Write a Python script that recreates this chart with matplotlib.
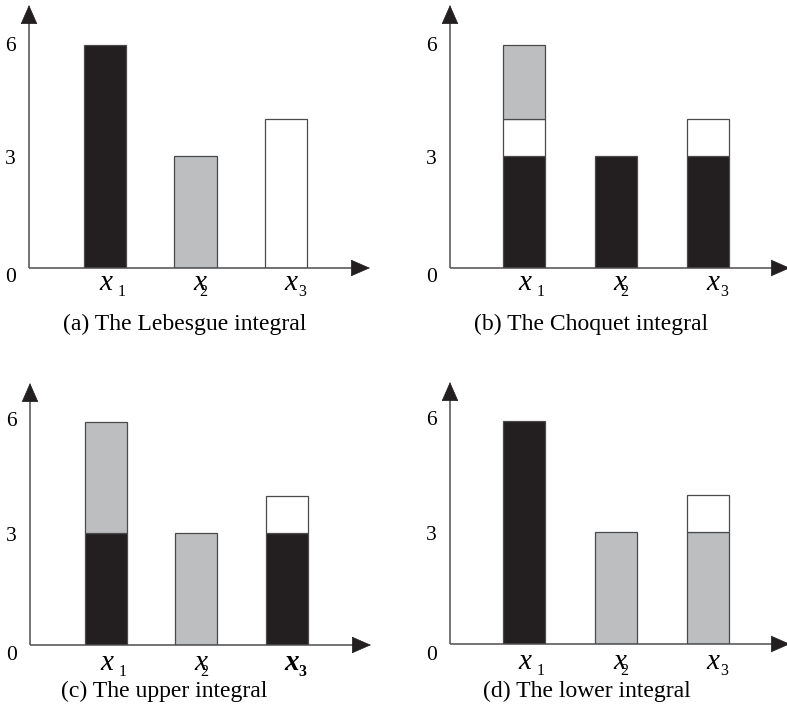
import matplotlib
matplotlib.use("Agg")
import matplotlib.pyplot as plt

plt.rcParams["font.family"] = ["Liberation Serif", "DejaVu Serif"]

# Categories and the stacked segment heights per panel
categories = ["1", "2", "3"]
y_ticks = [0, 3, 6]

# (a) The Lebesgue integral
a_black = [6, 0, 0]
a_gray = [0, 3, 0]
a_white = [0, 0, 4]
# (b) The Choquet integral  (stack order: black, white, gray)
b_black = [3, 3, 3]
b_white = [1, 0, 1]
b_gray = [2, 0, 0]
# (c) The upper integral  (stack order: black, gray, white)
c_black = [3, 0, 3]
c_gray = [3, 3, 0]
c_white = [0, 0, 1]
# (d) The lower integral  (stack order: black, gray, white)
d_black = [6, 0, 0]
d_gray = [0, 3, 3]
d_white = [0, 0, 1]

captions = ["(a) The Lebesgue integral", "(b) The Choquet integral",
            "(c) The upper integral", "(d) The lower integral"]

BLACK = "#231f20"
GRAY = "#bcbec0"
WHITE = "#ffffff"
EDGE = "#4a4a4a"
AXIS = "#4d4d4d"

W, H = 787, 719
PX_PER_UNIT = 37.2
fig = plt.figure(figsize=(W / 100, H / 100), dpi=100)
fig.patch.set_facecolor("white")


def make_axes(axis_x, axis_y, tip_x, tip_y, cat1_px, spacing):
    ax = fig.add_axes([axis_x / W, 1 - axis_y / H,
                       (tip_x - axis_x) / W, (axis_y - tip_y) / H])
    xmin = 1 - (cat1_px - axis_x) / spacing
    xmax = 1 + (tip_x - cat1_px) / spacing
    ymax = (axis_y - tip_y) / PX_PER_UNIT
    ax.set_xlim(xmin, xmax)
    ax.set_ylim(0, ymax)
    ax.axis("off")
    return ax, xmin, xmax, ymax, spacing


def draw_axes_arrows(ax, xmin, xmax, ymax, spacing):
    head_px = 17
    # axis lines up to the arrow heads
    ax.plot([xmin, xmax - head_px / spacing], [0, 0], color=AXIS, lw=1.1,
            clip_on=False, zorder=5, solid_capstyle="butt")
    ax.plot([xmin, xmin], [0, ymax - head_px / PX_PER_UNIT], color=AXIS,
            lw=1.1, clip_on=False, zorder=5, solid_capstyle="butt")
    style = "-|>,head_length=0.64,head_width=0.28"
    ax.annotate("", xy=(xmax, 0), xytext=(xmax - head_px / spacing, 0),
                arrowprops=dict(arrowstyle=style, mutation_scale=20, lw=0.5,
                                color=BLACK, shrinkA=0, shrinkB=0),
                annotation_clip=False, zorder=6)
    ax.annotate("", xy=(xmin, ymax), xytext=(xmin, ymax - head_px / PX_PER_UNIT),
                arrowprops=dict(arrowstyle=style, mutation_scale=20, lw=0.5,
                                color=BLACK, shrinkA=0, shrinkB=0),
                annotation_clip=False, zorder=6)


def draw_stack(ax, layers):
    xs = [1, 2, 3]
    bottoms = [0, 0, 0]
    for heights, color in layers:
        for i, h in enumerate(heights):
            if h > 0:
                ax.bar(xs[i], h, bottom=bottoms[i], width=0.465, color=color,
                       edgecolor=EDGE, linewidth=0.9, zorder=3)
            bottoms[i] += h


def draw_labels(ax, xmin, label_dy, tick_dy, bold_last=False):
    for v, dy in zip(y_ticks, tick_dy):
        ax.annotate(str(v), xy=(xmin, v), xytext=(-13, dy),
                    textcoords="offset pixels", ha="right", va="center",
                    fontsize=15.5, annotation_clip=False)
    x_off = [1, 4, 5]
    sub_off = [13, 4, 12]
    for i, c in enumerate(categories):
        weight = "bold" if (bold_last and i == 2) else "normal"
        ax.annotate("x", xy=(i + 1, 0), xytext=(x_off[i], -label_dy),
                    textcoords="offset pixels", ha="center", va="baseline",
                    fontsize=21, style="italic", weight=weight,
                    annotation_clip=False)
        ax.annotate(c, xy=(i + 1, 0), xytext=(sub_off[i], -label_dy - 6),
                    textcoords="offset pixels", ha="left", va="baseline",
                    fontsize=11.5, weight=weight, annotation_clip=False)


# panel geometry: y-axis x, x-axis y, arrow tips, first bar centre, bar spacing (pixels)
panels = [
    (29, 268, 370, 5, 105, 90.5),
    (450, 268, 790, 5, 524, 92.0),
    (30, 645, 371, 383, 106, 90.3),
    (450, 644, 790, 382, 524, 92.0),
]
stacks = [
    [(a_black, BLACK), (a_gray, GRAY), (a_white, WHITE)],
    [(b_black, BLACK), (b_white, WHITE), (b_gray, GRAY)],
    [(c_black, BLACK), (c_gray, GRAY), (c_white, WHITE)],
    [(d_black, BLACK), (d_gray, GRAY), (d_white, WHITE)],
]
label_dys = [22, 22, 25, 25]
tick_dys = [[-9, -3, -1.5], [-9, -3, -1.5], [-11, -3, 0], [-11, -3, 0]]
caption_pos = [(185, 324), (591, 324), (164.5, 691), (587, 691)]

for k, (geom, layers) in enumerate(zip(panels, stacks)):
    ax, xmin, xmax, ymax, spacing = make_axes(*geom)
    draw_stack(ax, layers)
    draw_axes_arrows(ax, xmin, xmax, ymax, spacing)
    draw_labels(ax, xmin, label_dys[k], tick_dys[k], bold_last=(k == 2))
    cx, cy = caption_pos[k]
    fig.text(cx / W, 1 - cy / H, captions[k], ha="center", va="center",
             fontsize=17)

fig.savefig("out.png", dpi=100, facecolor="white")
